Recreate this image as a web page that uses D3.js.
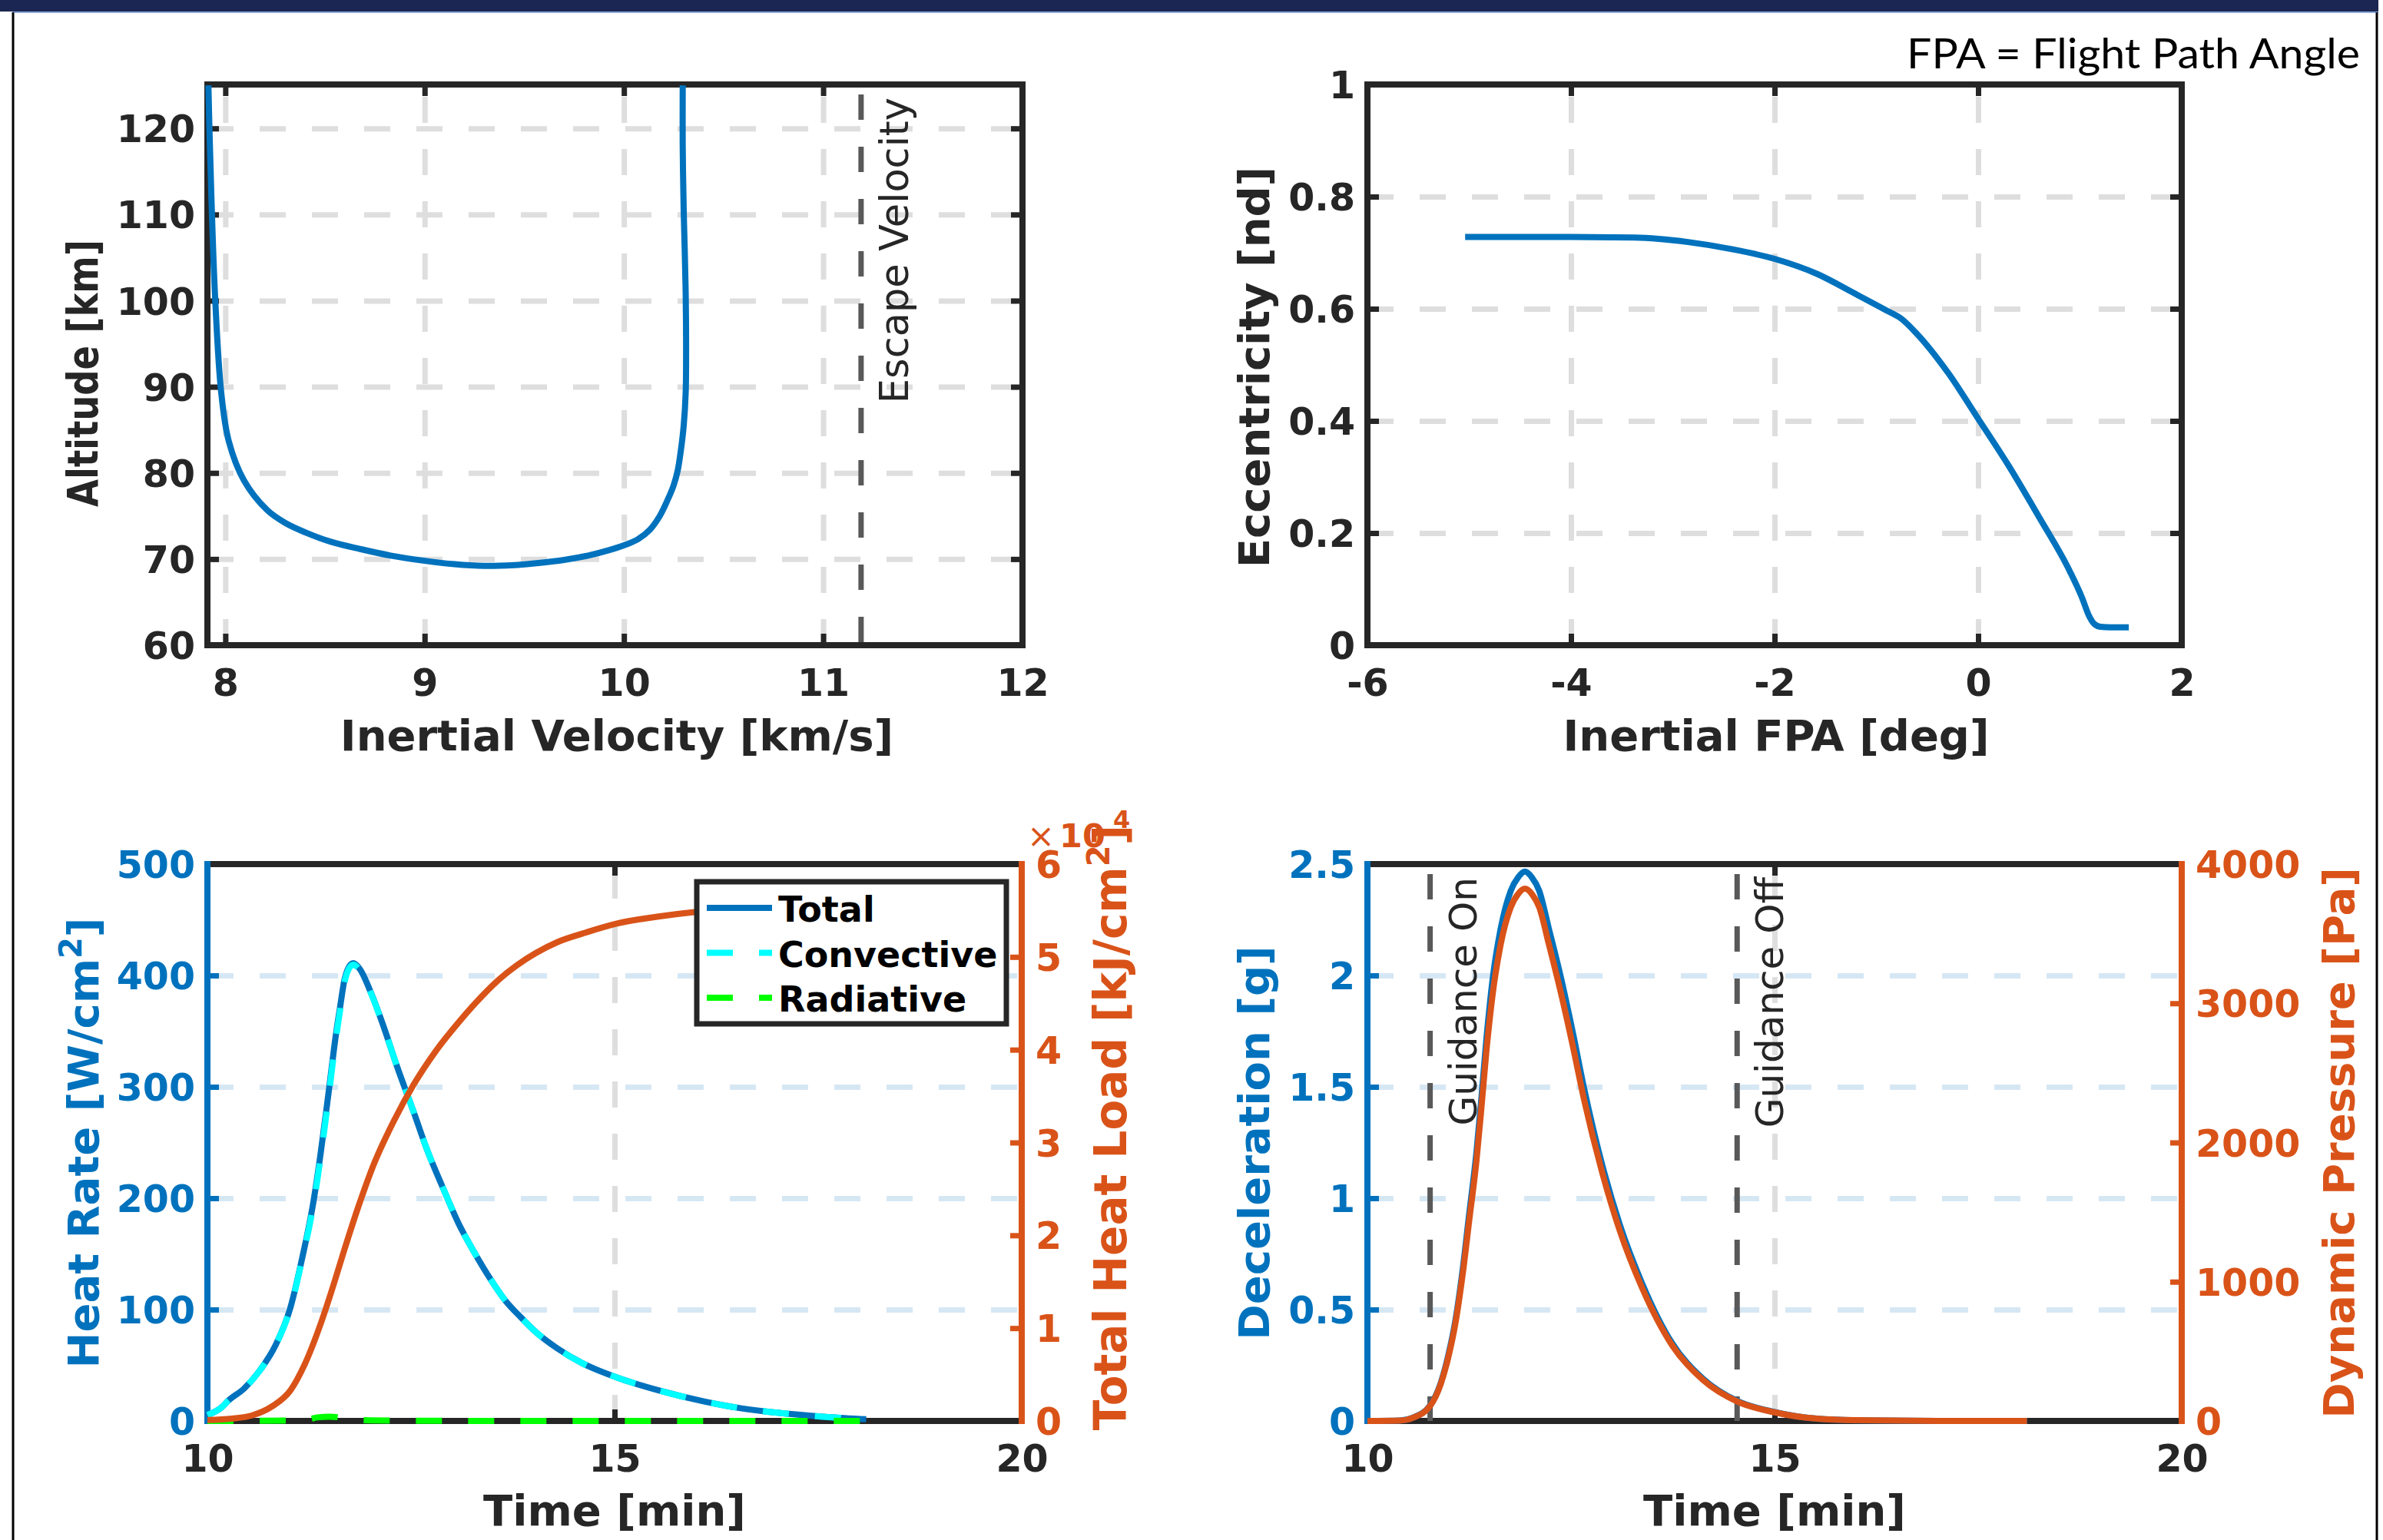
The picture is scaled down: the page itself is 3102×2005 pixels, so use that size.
<!doctype html>
<html lang="en">
<head>
<meta charset="utf-8">
<title>Entry trajectory summary</title>
<style>
  body { margin: 0; background: #fff; }
  svg { display: block; font-family: 'DejaVu Sans', sans-serif; }
</style>
</head>
<body>
<div id="chart"></div>
<script src="https://cdn.jsdelivr.net/npm/d3@7"></script>
<script>
// ---------------- data ----------------
// altitude vs inertial velocity
const velocity = [7.915, 7.92, 7.93, 7.948, 7.979, 8.017, 8.094, 8.209, 8.30, 8.401, 8.53, 8.67, 8.83, 9.0, 9.15, 9.30,
  9.45, 9.55, 9.70, 9.82, 9.92, 10.0, 10.07, 10.13, 10.18, 10.22, 10.25, 10.27, 10.285, 10.30, 10.31, 10.312, 10.31,
  10.305, 10.30, 10.295, 10.295];
const altitude = [125, 120, 112, 100.7, 89.4, 83.7, 79.1, 75.7, 74.2, 73.1, 72.0, 71.2, 70.4, 69.8, 69.4, 69.2,
  69.3, 69.5, 69.9, 70.4, 71.0, 71.6, 72.3, 73.4, 75.0, 76.9, 78.6, 80.3, 82.5, 85.5, 89.4, 95, 100.7,
  106, 110.4, 118, 125];
const escapeVelocity = 11.19;

// eccentricity vs inertial flight path angle
const fpa = [-5.04, -4.5, -4.0, -3.38, -2.85, -2.41, -2.0, -1.58, -1.21, -0.90, -0.76, -0.61, -0.30, 0.0, 0.30,
  0.60, 0.90, 1.02, 1.09, 1.14, 1.20, 1.30, 1.48];
const eccentricity = [0.728, 0.728, 0.728, 0.727, 0.719, 0.706, 0.689, 0.662, 0.627, 0.597, 0.583, 0.557, 0.487,
  0.404, 0.320, 0.228, 0.132, 0.085, 0.052, 0.038, 0.033, 0.032, 0.032];

// heat rate [W/cm^2] and total heat load [kJ/cm^2]
const heatTime = [10.0, 10.17, 10.26, 10.45, 10.64, 10.83, 11.02, 11.16, 11.30, 11.39, 11.49, 11.58, 11.63, 11.68,
  11.72, 11.79, 11.87, 12.0, 12.15, 12.33, 12.53, 12.7, 12.90, 13.08, 13.28, 13.47, 13.66, 13.85, 14.03, 14.3, 14.6,
  15.03, 15.54, 16.1, 16.5, 16.86, 17.2, 17.62, 18.09];
const heatTotal = [5.3, 12, 18.5, 29, 45, 67, 102, 145, 196, 240, 296, 348, 372, 395, 405, 411, 406, 386, 357, 318,
  278, 243, 208, 178, 151, 128, 108, 93, 80, 65, 52, 39, 27.5, 17.5, 12, 8.5, 6, 3.5, 1.5];
const heatConvective = [5.3, 12, 18.5, 29, 45, 67, 101.7, 144.1, 193.4, 236.6, 292.2, 344.6, 368.9, 392.6, 403.2,
  409.7, 405, 385.5, 356.7, 318, 278, 243, 208, 178, 151, 128, 108, 93, 80, 65, 52, 39, 27.5, 17.5, 12, 8.5, 6, 3.5, 1.5];
const radTime = [10.0, 11.0, 11.25, 11.35, 11.5, 11.62, 11.75, 12.0, 13.0, 15.0, 18.09];
const heatRadiative = [0, 0.3, 1.5, 3.2, 3.8, 3.2, 1.5, 0.5, 0.1, 0, 0];
const loadTime = [10.0, 10.3, 10.55, 10.8, 11.02, 11.2, 11.4, 11.55, 11.68, 11.85, 12.05, 12.3, 12.53, 12.8, 13.09,
  13.3, 13.56, 13.8, 14.03, 14.3, 14.6, 15.03, 15.54, 16.0, 16.5, 17.0, 17.5, 18.09];
const heatLoad = [100, 250, 600, 1600, 3300, 6200, 10700, 14700, 18400, 23000, 27800, 32500, 36200, 39800, 43000,
  45100, 47400, 49100, 50400, 51600, 52500, 53600, 54350, 54850, 55200, 55450, 55620, 55720];

// deceleration [g] and dynamic pressure [Pa]
const decelTime = [10.0, 10.4, 10.56, 10.77, 10.9, 10.99, 11.08, 11.17, 11.25, 11.34, 11.40, 11.46, 11.54, 11.635,
  11.76, 11.85, 11.934, 12.02, 12.11, 12.23, 12.37, 12.52, 12.66, 12.89, 13.1, 13.37, 13.74, 14.12, 14.54, 15.0,
  15.52, 16.0, 17.0, 18.1];
const deceleration = [0, 0.002, 0.015, 0.07, 0.17, 0.29, 0.45, 0.68, 0.93, 1.21, 1.45, 1.71, 1.99, 2.207, 2.38,
  2.44, 2.466, 2.44, 2.38, 2.207, 2.0, 1.748, 1.494, 1.14, 0.88, 0.62, 0.35, 0.19, 0.09, 0.04, 0.01, 0.003, 0, 0];
const dynPressure = [0, 3, 23, 108, 265, 450, 700, 1055, 1440, 1875, 2250, 2650, 3075, 3420, 3690, 3785, 3823, 3785,
  3690, 3420, 3090, 2700, 2310, 1770, 1365, 960, 545, 295, 140, 62, 16, 5, 0, 0];
const guidanceOn = 10.77, guidanceOff = 14.54;

// ticks
const velTicks = [8, 9, 10, 11, 12];
const altTicks = [60, 70, 80, 90, 100, 110, 120];
const fpaTicks = [-6, -4, -2, 0, 2];
const eccTicks = [0, 0.2, 0.4, 0.6, 0.8, 1];
const timeTicks = [10, 15, 20];
const heatTicks = [0, 100, 200, 300, 400, 500];
const loadTicks = [0, 10000, 20000, 30000, 40000, 50000, 60000];
const decelTicks = [0, 0.5, 1, 1.5, 2, 2.5];
const pressTicks = [0, 1000, 2000, 3000, 4000];
const legendNames = ['Total', 'Convective', 'Radiative'];

// ---------------- styles ----------------
const W = 3102, H = 2005;
const dark = '#262626', blue = '#0072BD', orange = '#D95319', cyan = '#00FFFF', green = '#00FF00';
const gridGray = '#dedede', gridBlue = '#d6e7f4', markGray = '#595959';
const dash = '34 34';

const svg = d3.select('#chart').append('svg').attr('width', W).attr('height', H);

// slide frame
svg.append('rect').attr('x', 0).attr('y', 0).attr('width', 3096).attr('height', 15).attr('fill', '#1b2752');
svg.append('line').attr('x1', 16).attr('x2', 3096).attr('y1', 16).attr('y2', 16).attr('stroke', '#8faadc').attr('stroke-width', 2);
svg.append('line').attr('x1', 17).attr('x2', 17).attr('y1', 16).attr('y2', H).attr('stroke', '#000').attr('stroke-width', 3);
svg.append('line').attr('x1', 3094).attr('x2', 3094).attr('y1', 16).attr('y2', H).attr('stroke', '#000').attr('stroke-width', 3);

let clipCount = 0;
function makePanel(box, xDom, yDom, y2Dom) {
  const g = svg.append('g');
  const x = d3.scaleLinear().domain(xDom).range([box.left, box.right]);
  const y = d3.scaleLinear().domain(yDom).range([box.bottom, box.top]);
  const y2 = y2Dom ? d3.scaleLinear().domain(y2Dom).range([box.bottom, box.top]) : null;
  const id = 'clip' + (++clipCount);
  svg.append('clipPath').attr('id', id).append('rect')
    .attr('x', box.left - 4).attr('y', box.top - 4)
    .attr('width', box.right - box.left + 8).attr('height', box.bottom - box.top + 8);
  return { g, x, y, y2, box, clip: `url(#${id})` };
}

function grid(p, xVals, yVals, yColor) {
  const b = p.box;
  p.g.append('g').attr('transform', `translate(0,${b.bottom})`)
    .call(d3.axisBottom(p.x).tickValues(xVals).tickSize(-(b.bottom - b.top)).tickFormat(''))
    .call(a => a.select('.domain').remove())
    .selectAll('line').attr('stroke', gridGray).attr('stroke-width', 7).attr('stroke-dasharray', dash);
  p.g.append('g').attr('transform', `translate(${b.left},0)`)
    .call(d3.axisLeft(p.y).tickValues(yVals).tickSize(-(b.right - b.left)).tickFormat(''))
    .call(a => a.select('.domain').remove())
    .selectAll('line').attr('stroke', yColor).attr('stroke-width', 7).attr('stroke-dasharray', dash);
}

function styleAxis(a, color) {
  a.select('.domain').remove();
  a.attr('font-family', 'DejaVu Sans').attr('font-size', 49).attr('font-weight', 'bold').style('color', color);
  a.selectAll('line').attr('stroke-width', 7);
}

function axes(p, o) {
  const b = p.box;
  const fmt = o.fmt || (d => String(d));
  p.g.append('g').attr('transform', `translate(0,${b.bottom})`)
    .call(d3.axisBottom(p.x).tickValues(o.xTicks).tickFormat(fmt).tickSize(-15).tickPadding(31))
    .call(a => styleAxis(a, dark));
  p.g.append('g').attr('transform', `translate(0,${b.top})`)
    .call(d3.axisTop(p.x).tickValues(o.xTicks).tickFormat('').tickSize(-15))
    .call(a => styleAxis(a, dark));
  p.g.append('g').attr('transform', `translate(${b.left},0)`)
    .call(d3.axisLeft(p.y).tickValues(o.yTicks).tickFormat(o.yFmt || fmt).tickSize(-15).tickPadding(16))
    .call(a => styleAxis(a, o.leftColor))
    .selectAll('text').attr('dy', '0.36em');
  const right = p.g.append('g').attr('transform', `translate(${b.right},0)`);
  if (p.y2) {
    right.call(d3.axisRight(p.y2).tickValues(o.y2Ticks).tickFormat(o.y2Fmt).tickSize(-15).tickPadding(18))
      .call(a => styleAxis(a, o.rightColor))
      .selectAll('text').attr('dy', '0.36em');
  } else {
    right.call(d3.axisRight(p.y).tickValues(o.yTicks).tickFormat('').tickSize(-15))
      .call(a => styleAxis(a, dark));
  }
  // axis box
  const seg = (x1, y1, x2, y2, c) => p.g.append('line').attr('x1', x1).attr('y1', y1).attr('x2', x2).attr('y2', y2)
    .attr('stroke', c).attr('stroke-width', 8).attr('stroke-linecap', 'square');
  seg(b.left, b.top, b.right, b.top, dark);
  seg(b.left, b.bottom, b.right, b.bottom, dark);
  seg(b.left, b.top, b.left, b.bottom, o.leftColor);
  seg(b.right, b.top, b.right, b.bottom, o.rightColor || dark);
}

function curve(p, xs, ys, yScale, color, dashArr) {
  const pts = xs.map((v, i) => [v, ys[i]]);
  const line = d3.line().x(d => p.x(d[0])).y(d => yScale(d[1])).curve(d3.curveMonotoneX);
  p.g.append('path').datum(pts).attr('d', line).attr('clip-path', p.clip)
    .attr('fill', 'none').attr('stroke', color).attr('stroke-width', 8)
    .attr('stroke-linejoin', 'round').attr('stroke-dasharray', dashArr || null);
}

function curveXY(p, xs, ys, color) {
  const pts = xs.map((v, i) => [v, ys[i]]);
  const line = d3.line().x(d => p.x(d[0])).y(d => p.y(d[1])).curve(d3.curveCatmullRom.alpha(0.5));
  p.g.append('path').datum(pts).attr('d', line).attr('clip-path', p.clip)
    .attr('fill', 'none').attr('stroke', color).attr('stroke-width', 8).attr('stroke-linejoin', 'round');
}

function xLine(p, value, label, textOffset, size) {
  const b = p.box, xv = p.x(value);
  p.g.append('line').attr('x1', xv).attr('x2', xv).attr('y1', b.top).attr('y2', b.bottom)
    .attr('stroke', markGray).attr('stroke-width', 7).attr('stroke-dasharray', '33 35').attr('stroke-dashoffset', 55);
  p.g.append('text').attr('transform', `translate(${xv + textOffset},${b.top + 17}) rotate(-90)`)
    .attr('text-anchor', 'end').attr('font-size', size || 50).attr('fill', dark).text(label);
}

function label(g, x, y, parts, o) {
  const t = g.append('text')
    .attr('transform', o.rotate ? `translate(${x},${y}) rotate(-90)` : `translate(${x},${y})`)
    .attr('text-anchor', 'middle').attr('font-size', o.size || 56).attr('font-weight', 'bold')
    .attr('fill', o.color || dark);
  if (o.length) t.attr('textLength', o.length).attr('lengthAdjust', 'spacingAndGlyphs');
  parts.forEach(s => {
    const sp = t.append('tspan').text(s.t);
    if (s.sup) sp.attr('font-size', 40).attr('dy', -22);
    if (s.down) sp.attr('dy', 22);
  });
  return t;
}

// ---------------- panel 1: altitude vs velocity ----------------
const p1 = makePanel({ left: 270, right: 1331, top: 110, bottom: 840 }, [7.91, 12], [60, 125.1]);
grid(p1, [8, 9, 10, 11], altTicks.slice(1), gridGray);
axes(p1, { xTicks: velTicks, yTicks: altTicks, leftColor: dark });
xLine(p1, escapeVelocity, 'Escape Velocity', 61, 51);
curveXY(p1, velocity, altitude, blue);
label(p1.g, 803, 977, [{ t: 'Inertial Velocity [km/s]' }], {});
label(p1.g, 127, 486, [{ t: 'Altitude [km]' }], { rotate: true, length: 348 });

// ---------------- panel 2: eccentricity vs FPA ----------------
const p2 = makePanel({ left: 1780, right: 2840, top: 110, bottom: 840 }, [-6, 2], [0, 1]);
grid(p2, [-4, -2, 0], eccTicks.slice(1, 5), gridGray);
axes(p2, { xTicks: fpaTicks, yTicks: eccTicks, leftColor: dark });
curve(p2, fpa, eccentricity, p2.y, blue);
label(p2.g, 2312, 977, [{ t: 'Inertial FPA [deg]' }], {});
label(p2.g, 1652, 478, [{ t: 'Eccentricity [nd]' }], { rotate: true });
svg.append('text').attr('x', 3072).attr('y', 89).attr('text-anchor', 'end')
  .attr('font-family', 'Lato, "Open Sans", sans-serif').attr('font-size', 55).attr('fill', '#000')
  .attr('textLength', 590).attr('lengthAdjust', 'spacingAndGlyphs')
  .text('FPA = Flight Path Angle');

// ---------------- panel 3: heating ----------------
const p3 = makePanel({ left: 270, right: 1330, top: 1125, bottom: 1850 }, [10, 20], [0, 500], [0, 60000]);
grid(p3, [15], heatTicks.slice(1, 5), gridBlue);
axes(p3, {
  xTicks: timeTicks, yTicks: heatTicks, leftColor: blue, rightColor: orange,
  y2Ticks: loadTicks, y2Fmt: d => String(d / 10000)
});
curve(p3, heatTime, heatTotal, p3.y, blue);
curve(p3, heatTime, heatConvective, p3.y, cyan, dash);
curve(p3, radTime, heatRadiative, p3.y, green, dash);
curve(p3, loadTime, heatLoad, p3.y2, orange);

// exponent above right axis
const ex = p3.g.append('g').attr('fill', orange);
ex.append('text').attr('x', p3.box.right + 7).attr('y', p3.box.top - 22).attr('font-size', 43).text('×');
ex.append('text').attr('x', p3.box.right + 49).attr('y', p3.box.top - 22).attr('font-size', 43)
  .attr('font-weight', 'bold').text('10');
ex.append('text').attr('x', p3.box.right + 119).attr('y', p3.box.top - 47).attr('font-size', 32)
  .attr('font-weight', 'bold').text('4');

// legend
const lg = p3.g.append('g');
const lgBox = { x: 907, y: 1148, w: 403, h: 185 };
lg.append('rect').attr('x', lgBox.x).attr('y', lgBox.y).attr('width', lgBox.w).attr('height', lgBox.h)
  .attr('fill', '#fff').attr('stroke', dark).attr('stroke-width', 7);
const lgColors = [blue, cyan, green], lgDash = [null, dash, dash];
legendNames.forEach((name, i) => {
  const yy = lgBox.y + 34 + i * 58.5;
  lg.append('line').attr('x1', lgBox.x + 13).attr('x2', lgBox.x + 98).attr('y1', yy).attr('y2', yy)
    .attr('stroke', lgColors[i]).attr('stroke-width', 8).attr('stroke-dasharray', lgDash[i]);
  lg.append('text').attr('x', lgBox.x + 106).attr('y', yy + 18).attr('font-size', 46)
    .attr('font-weight', 'bold').attr('fill', '#000').text(name);
});

label(p3.g, 800, 1986, [{ t: 'Time [min]' }], {});
label(p3.g, 128, 1488, [{ t: 'Heat Rate [W/cm' }, { t: '2', sup: true }, { t: ']', down: true }], { rotate: true, color: blue });
label(p3.g, 1466, 1468, [{ t: 'Total Heat Load [kJ/cm' }, { t: '2', sup: true }, { t: ']', down: true }],
  { rotate: true, color: orange, size: 58 });

// ---------------- panel 4: deceleration / dynamic pressure ----------------
const p4 = makePanel({ left: 1780, right: 2840, top: 1125, bottom: 1850 }, [10, 20], [0, 2.5], [0, 4000]);
grid(p4, [15], decelTicks.slice(1, 5), gridBlue);
axes(p4, {
  xTicks: timeTicks, yTicks: decelTicks, leftColor: blue, rightColor: orange,
  y2Ticks: pressTicks, y2Fmt: d => String(d)
});
xLine(p4, guidanceOn, 'Guidance On', 60);
xLine(p4, guidanceOff, 'Guidance Off', 60);
curve(p4, decelTime, deceleration, p4.y, blue);
curve(p4, decelTime, dynPressure, p4.y2, orange);
label(p4.g, 2310, 1986, [{ t: 'Time [min]' }], {});
label(p4.g, 1652, 1488, [{ t: 'Deceleration [g]' }], { rotate: true, color: blue });
label(p4.g, 3064, 1488, [{ t: 'Dynamic Pressure [Pa]' }], { rotate: true, color: orange });
</script>
</body>
</html>
